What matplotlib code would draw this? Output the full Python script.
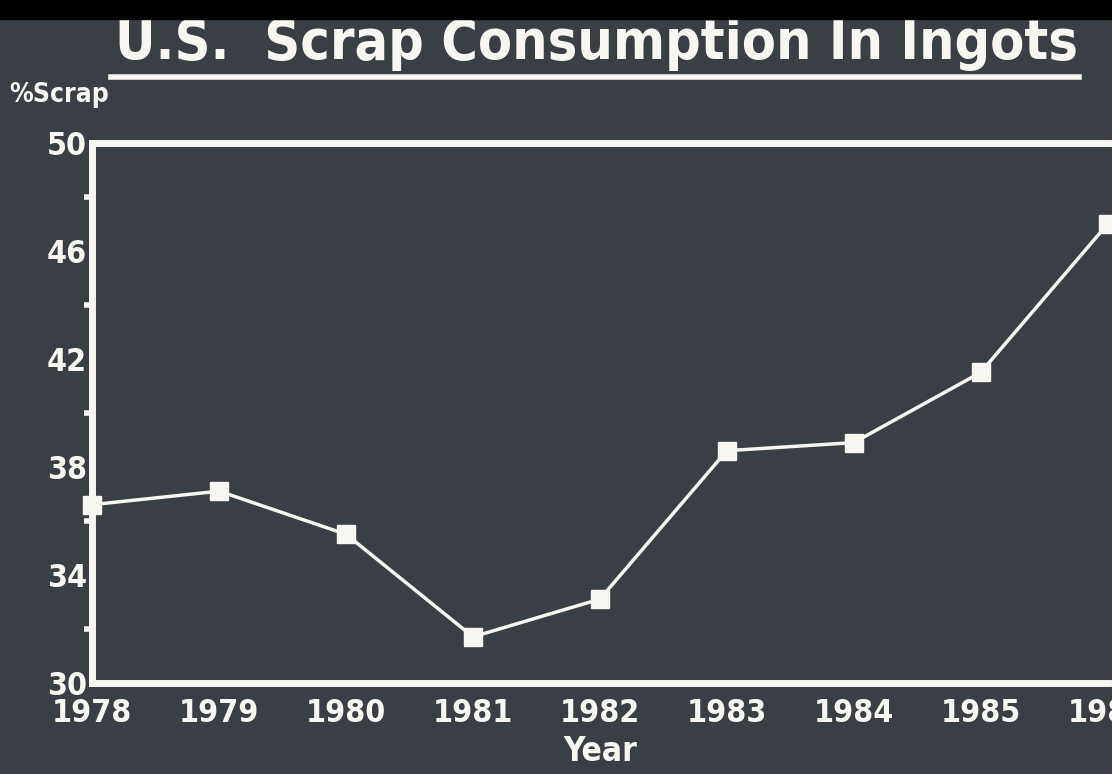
import matplotlib
matplotlib.use("Agg")
import matplotlib.pyplot as plt
from matplotlib.ticker import MultipleLocator

years = [1978, 1979, 1980, 1981, 1982, 1983, 1984, 1985, 1986]
scrap_pct = [36.6, 37.1, 35.5, 31.7, 33.1, 38.6, 38.9, 41.5, 47.0]
y_ticks = [30, 34, 38, 42, 46, 50]

bg = "#3a3f46"
fg = "#f7f6f0"
font = ["DejaVu Sans", "Liberation Sans"]
stretch = "condensed"

fig = plt.figure(figsize=(11.12, 7.74), dpi=100, facecolor=bg)
ax = fig.add_axes([0.083, 0.118, 0.913, 0.697], facecolor=bg)

ax.plot(years, scrap_pct, color=fg, lw=2.5, marker="s", ms=13,
        mfc=fg, mec=fg, clip_on=False, zorder=5)

ax.set_xlim(1978, 1986)
ax.set_ylim(30, 50)
ax.set_xticks(years)
ax.set_yticks(y_ticks)
ax.yaxis.set_minor_locator(MultipleLocator(2))

for side in ["left", "bottom", "top"]:
    ax.spines[side].set_color(fg)
    ax.spines[side].set_linewidth(5)
ax.spines["right"].set_visible(False)

ax.tick_params(axis="x", colors=fg, length=0, pad=11)
ax.tick_params(axis="y", colors=fg, length=0, pad=4)
ax.tick_params(axis="y", which="minor", colors=fg, length=6, width=4, direction="out")
ax.set_yticklabels([str(v) for v in y_ticks])
for lbl in ax.get_xticklabels() + ax.get_yticklabels():
    lbl.set_family(font)
    lbl.set_stretch(stretch)
    lbl.set_fontweight("bold")
    lbl.set_fontsize(23)
    lbl.set_color(fg)

ax.set_xlabel("Year", color=fg, fontsize=24, fontweight="bold",
              family=font, stretch=stretch, labelpad=4)

fig.text(0.008, 0.877, "%Scrap", color=fg, fontsize=19, fontweight="bold",
         family=font, stretch=stretch, ha="left", va="center")

fig.text(0.536, 0.943, "U.S.  Scrap Consumption In Ingots", color=fg,
         fontsize=40, fontweight="bold", family=font, stretch=stretch,
         ha="center", va="center")
fig.add_artist(plt.Line2D([0.1, 0.97], [0.9, 0.9], color=fg, lw=4,
                          transform=fig.transFigure))

# dark strip along the top edge
fig.add_artist(plt.Rectangle((0, 0.975), 1, 0.025, color="black",
                             transform=fig.transFigure, zorder=10))

fig.savefig("out.png", dpi=100, facecolor=bg)
